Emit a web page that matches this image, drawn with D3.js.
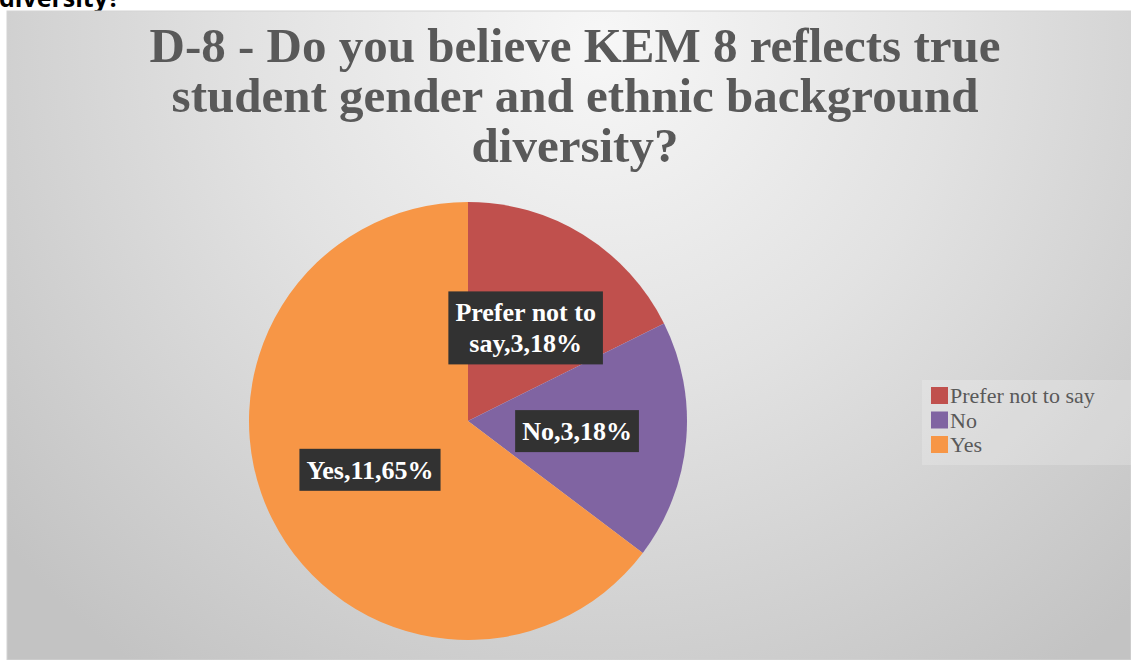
<!DOCTYPE html>
<html>
<head>
<meta charset="utf-8">
<script src="https://cdn.jsdelivr.net/npm/d3@7"></script>
<style>
  html, body { margin: 0; padding: 0; background: #ffffff; overflow: hidden; }
  svg { display: block; }
</style>
</head>
<body>
<script>
// Survey answers for question D-8
const categories = ["Prefer not to say", "No", "Yes"];
const counts = [3, 3, 11];
const percents = [18, 18, 65];
const colors = ["#c0504d", "#8064a2", "#f79646"];
const titleLines = [
  "D-8 - Do you believe KEM 8 reflects true",
  "student gender and ethnic background",
  "diversity?"
];

const W = 1131, H = 660;
const svg = d3.select("body").append("svg").attr("width", W).attr("height", H);
const defs = svg.append("defs");

// Page heading text above the chart (runs off the top edge)
svg.append("text")
  .attr("x", -1).attr("y", 7)
  .attr("font-family", "'Open Sans', 'Liberation Sans', sans-serif")
  .attr("font-weight", "bold")
  .attr("font-size", 25)
  .attr("fill", "#000")
  .text("diversity?");

// Chart area with soft radial shading
const grad = defs.append("radialGradient")
  .attr("id", "bg").attr("gradientUnits", "userSpaceOnUse")
  .attr("cx", 600).attr("cy", 40).attr("r", 780);
grad.append("stop").attr("offset", 0).attr("stop-color", "#f7f7f7");
grad.append("stop").attr("offset", 0.45).attr("stop-color", "#e2e2e2");
grad.append("stop").attr("offset", 1).attr("stop-color", "#c3c3c3");

svg.append("rect")
  .attr("x", 7).attr("y", 11).attr("width", W - 7).attr("height", H - 11)
  .attr("fill", "url(#bg)")
  .attr("stroke", "#d4d4d4").attr("stroke-width", 1);

const serif = "'Liberation Serif', 'DejaVu Serif', serif";

// Title, sized so the first line spans its column
const title = svg.append("g");
titleLines.forEach((t, i) => {
  title.append("text")
    .attr("x", 575).attr("y", 62 + i * 50)
    .attr("text-anchor", "middle")
    .attr("font-family", serif)
    .attr("font-weight", "bold")
    .attr("font-size", 40)
    .attr("fill", "#595959")
    .text(t);
});
{
  const w = title.select("text").node().getComputedTextLength();
  title.selectAll("text").attr("font-size", 40 * 851 / w);
}

// Pie
const cx = 468, cy = 421, R = 219;
const data = categories.map((c, i) => ({ name: c, value: counts[i], pct: percents[i], color: colors[i] }));
const pie = d3.pie().sort(null).value(d => d.value);
const arc = d3.arc().innerRadius(0).outerRadius(R);
const arcs = pie(data);

const g = svg.append("g").attr("transform", `translate(${cx},${cy})`);
g.selectAll("path.slice")
  .data(arcs)
  .join("path")
  .attr("class", "slice")
  .attr("d", arc)
  .attr("fill", d => d.data.color);

// Data labels: dark boxes with white bold text, wrapped when long
const labelSize = 26;
const lineH = 31;
const maxW = 170;
const probe = svg.append("text")
  .attr("font-family", serif).attr("font-weight", "bold")
  .attr("font-size", labelSize).attr("visibility", "hidden");
const measure = s => { probe.text(s); return probe.node().getComputedTextLength(); };
function wrapWords(text) {
  const words = text.split(" ");
  const lines = [];
  let cur = "";
  words.forEach(w => {
    const next = cur ? cur + " " + w : w;
    if (cur && measure(next) > maxW) { lines.push(cur); cur = w; }
    else cur = next;
  });
  if (cur) lines.push(cur);
  return lines;
}

arcs.forEach(a => {
  const label = `${a.data.name},${a.data.value},${a.data.pct}%`;
  const lines = wrapWords(label);
  const [lx, ly] = arc.centroid(a);
  const bw = d3.max(lines.map(measure)) + 14;
  const bh = lines.length * lineH + 11;
  const lg = g.append("g").attr("transform", `translate(${lx},${ly})`);
  lg.append("rect")
    .attr("x", -bw / 2).attr("y", -bh / 2)
    .attr("width", bw).attr("height", bh)
    .attr("fill", "#323232");
  lines.forEach((t, i) => {
    lg.append("text")
      .attr("x", 0)
      .attr("y", -bh / 2 + 5.5 + lineH * i + lineH / 2)
      .attr("dy", "0.34em")
      .attr("text-anchor", "middle")
      .attr("font-family", serif).attr("font-weight", "bold")
      .attr("font-size", labelSize)
      .attr("fill", "#ffffff")
      .text(t);
  });
});
probe.remove();

// Legend
const legend = svg.append("g").attr("transform", "translate(922,380)");
legend.append("rect")
  .attr("x", 0).attr("y", 0).attr("width", 209).attr("height", 85)
  .attr("fill", "#ffffff").attr("fill-opacity", 0.2);
data.forEach((d, i) => {
  const row = legend.append("g").attr("transform", `translate(9,${7 + i * 24.5})`);
  row.append("rect").attr("width", 17).attr("height", 17).attr("fill", d.color);
  row.append("text")
    .attr("x", 19).attr("y", 9).attr("dy", "0.34em")
    .attr("font-family", serif)
    .attr("font-size", 22)
    .attr("fill", "#595959")
    .text(d.name);
});
</script>
</body>
</html>
